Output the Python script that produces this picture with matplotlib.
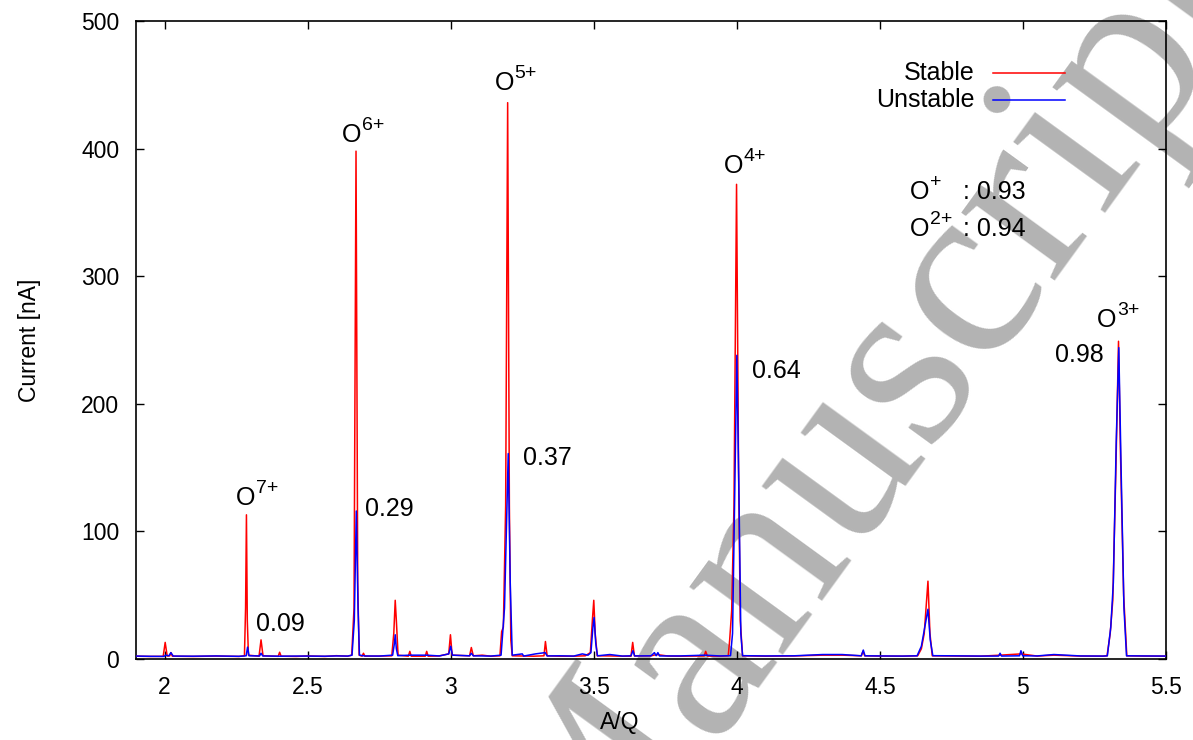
import matplotlib
matplotlib.use("Agg")
import matplotlib.pyplot as plt

# ---------------- data ----------------
stable_x = [1.90, 1.95, 1.995, 2.002, 2.009, 2.018, 2.022, 2.027, 2.10, 2.18, 2.26,
            2.279, 2.283, 2.286, 2.289, 2.293, 2.33, 2.337, 2.344, 2.397, 2.402, 2.407,
            2.46, 2.50, 2.56, 2.60, 2.64, 2.654, 2.662, 2.669, 2.675, 2.680, 2.690, 2.695,
            2.700, 2.75, 2.794, 2.801, 2.806, 2.810, 2.816, 2.852, 2.857, 2.862, 2.911,
            2.916, 2.921, 2.96, 2.993, 2.999, 3.005, 3.066, 3.072, 3.079, 3.11, 3.14,
            3.172, 3.178, 3.184, 3.192, 3.199, 3.205, 3.210, 3.215, 3.25, 3.29, 3.326,
            3.331, 3.337, 3.38, 3.43, 3.47, 3.488, 3.495, 3.500, 3.505, 3.512, 3.56, 3.60,
            3.630, 3.636, 3.642, 3.70, 3.72, 3.76, 3.80, 3.886, 3.891, 3.897, 3.94, 3.970,
            3.975, 3.982, 3.990, 3.999, 4.006, 4.012, 4.020, 4.10, 4.20, 4.30, 4.37, 4.435,
            4.441, 4.447, 4.50, 4.58, 4.632, 4.645, 4.655, 4.668, 4.675, 4.683, 4.75, 4.85,
            4.92, 4.993, 5.05, 5.108, 5.20, 5.28, 5.294, 5.305, 5.314, 5.325, 5.334, 5.341,
            5.352, 5.363, 5.42, 5.50]
stable_y = [2.2, 2.0, 2.1, 13, 2.3, 2.5, 5, 2.2, 2.0, 2.3, 2.0,
            2.5, 40, 113, 30, 3, 2.2, 15, 2.5, 2.1, 5.3, 2.2,
            2.0, 2.4, 2.0, 2.6, 2.2, 3, 40, 398, 60, 3, 2.2, 4.5,
            2.2, 2.3, 2.5, 20, 46, 30, 3, 2.2, 6, 2.2, 2.2,
            6, 2.2, 2.4, 4, 19, 3, 2.5, 9, 2.5, 3, 2.2,
            2.5, 21.5, 25, 120, 436, 120, 15, 2.5, 2.4, 2.2, 2.5,
            13.7, 2.5, 2.2, 2.2, 2.5, 5, 30, 46, 20, 2.5, 2.4, 2.2,
            2.2, 13, 2.4, 2.5, 3.5, 2.3, 2.2, 2.4, 6, 2.3, 2.2, 2.5,
            15, 38, 120, 372, 150, 30, 2.5, 2.2, 2.4, 3, 3, 2.5,
            6, 2.5, 2.3, 2.2, 2.5, 8, 20, 61, 20, 2.5, 2.4, 2.2,
            3, 4, 2.3, 3, 2.3, 2.2, 2.5, 20, 46, 150, 249, 160,
            50, 2.5, 2.3, 2.2]

unstable_x = [1.90, 1.95, 1.998, 2.003, 2.015, 2.022, 2.03, 2.10, 2.18, 2.26, 2.285,
              2.290, 2.295, 2.332, 2.337, 2.343, 2.40, 2.46, 2.50, 2.56, 2.60, 2.64,
              2.655, 2.663, 2.670, 2.676, 2.681, 2.70, 2.75, 2.797, 2.803, 2.806, 2.810,
              2.815, 2.857, 2.916, 2.96, 2.993, 3.000, 3.006, 3.066, 3.072, 3.079, 3.14,
              3.176, 3.188, 3.201, 3.208, 3.215, 3.25, 3.255, 3.296, 3.33, 3.337, 3.38,
              3.43, 3.46, 3.48, 3.490, 3.497, 3.501, 3.507, 3.513, 3.556, 3.60, 3.63,
              3.637, 3.643, 3.70, 3.712, 3.718, 3.724, 3.73, 3.80, 3.89, 3.94, 3.978,
              3.985, 3.992, 4.000, 4.008, 4.014, 4.020, 4.10, 4.20, 4.30, 4.368, 4.435,
              4.442, 4.448, 4.50, 4.58, 4.630, 4.645, 4.657, 4.668, 4.676, 4.685, 4.75,
              4.85, 4.915, 4.920, 4.925, 4.988, 4.993, 4.999, 5.05, 5.108, 5.20, 5.28,
              5.295, 5.307, 5.316, 5.326, 5.335, 5.343, 5.353, 5.362, 5.42, 5.50]
unstable_y = [2.3, 2.1, 2.0, 3, 2.5, 5, 2.3, 2.2, 2.4, 2.1, 2.5,
              9.3, 2.5, 2.4, 4.5, 2.4, 2.2, 2.3, 2.3, 2.2, 2.4, 2.3,
              3, 30, 116, 40, 3, 2.4, 2.3, 3, 12, 19, 8,
              2.6, 3, 3, 2.4, 4, 10, 3, 2.5, 4.5, 2.5, 2.3,
              3, 40, 161, 60, 3, 4, 2.3, 4, 5, 2.4, 2.5,
              2.3, 4, 3, 5, 25, 32.5, 12, 2.5, 3.5, 2.3, 2.5,
              6.5, 2.4, 2.5, 5, 2.6, 5, 2.4, 2.4, 3, 2.4, 2.6,
              20, 120, 238, 120, 20, 2.6, 2.4, 2.5, 3.5, 3.5, 2.5,
              7, 2.5, 2.4, 2.3, 2.5, 10, 25, 39, 15, 2.6, 2.5,
              2.3, 2.3, 4.5, 2.3, 2.5, 6.5, 2.5, 2.4, 3.5, 2.4, 2.3,
              2.5, 25, 60, 170, 244, 150, 40, 2.5, 2.4, 2.3]

series_labels = ["Stable", "Unstable"]
series_colors = ["#ff0000", "#0000ff"]

x_ticks = [2, 2.5, 3, 3.5, 4, 4.5, 5, 5.5]
x_tick_labels = ["2", "2.5", "3", "3.5", "4", "4.5", "5", "5.5"]
y_ticks = [0, 100, 200, 300, 400, 500]
y_tick_labels = ["0", "100", "200", "300", "400", "500"]

# ion labels
ion_charges = ["7+", "6+", "5+", "4+", "3+"]
ion_x = [2.249, 2.620, 3.153, 3.955, 5.259]
ion_y = [120.3, 405.0, 445.6, 380.5, 259.8]
ratio_text = ["0.09", "0.29", "0.37", "0.64", "0.98"]
ratio_x = [2.319, 2.701, 3.251, 4.053, 5.111]
ratio_y = [22.3, 111.7, 152.4, 220.6, 232.4]
extra_charges = ["+", "2+"]
extra_ratios = [": 0.93", ": 0.94"]

# ---------------- figure ----------------
W, H = 1193, 740
plt.rcParams['font.family'] = ['Liberation Sans', 'DejaVu Sans']

fig = plt.figure(figsize=(W / 100, H / 100), dpi=100)

def fx(px):
    return px / W

def fy(py):
    return 1 - py / H

FS = 18
SUP = 14

# watermark (behind the axes)
fig.text(fx(580), fy(925), "Manuscript", family="Liberation Serif", fontsize=182,
         color="#b3b3b3", rotation=54, rotation_mode="anchor", ha="left",
         va="baseline", zorder=-5)

ax = fig.add_axes([fx(136), fy(659), fx(1166) - fx(136), fy(21) - fy(659)])
ax.patch.set_alpha(0)

ax.plot(stable_x, stable_y, color=series_colors[0], lw=1.1, zorder=3)
ax.plot(unstable_x, unstable_y, color=series_colors[1], lw=1.1, zorder=4)

ax.set_xlim(1.9, 5.5)
ax.set_ylim(0, 500)
ax.set_xticks(x_ticks)
ax.set_xticklabels(x_tick_labels)
ax.set_yticks(y_ticks)
ax.set_yticklabels(y_tick_labels)
ax.tick_params(direction="in", length=6, width=1.0, top=True, right=True,
               labelsize=16.5, color="black")
ax.tick_params(axis="x", pad=12)
ax.tick_params(axis="y", pad=12)
for s in ax.spines.values():
    s.set_linewidth(1.2)

fig.text(fx(30), fy(340), "Current [nA]", rotation=90, ha="center", va="center",
         fontsize=16.5)
fig.text(fx(620), fy(722), "A/Q", ha="center", va="center", fontsize=16.5)

for ch, x, y in zip(ion_charges, ion_x, ion_y):
    t = ax.text(x, y, "O", fontsize=FS, ha="left", va="baseline", zorder=6)
    ax.annotate(ch, xy=(1.0, 1.0), xycoords=t, xytext=(0.3, 4.5),
                textcoords="offset points", fontsize=SUP, ha="left", va="top",
                annotation_clip=False, zorder=6)
for txt, x, y in zip(ratio_text, ratio_x, ratio_y):
    ax.text(x, y, txt, fontsize=FS, ha="left", va="baseline", zorder=6)

# O+ / O2+ ratio block
for i, (ch, ratio) in enumerate(zip(extra_charges, extra_ratios)):
    base = 199 + i * 37.5
    t = fig.text(fx(910), fy(base), "O", fontsize=FS, ha="left", va="baseline")
    ax.annotate(ch, xy=(1.0, 1.0), xycoords=t, xytext=(0.3, 4.5),
                textcoords="offset points", fontsize=SUP, ha="left", va="top",
                annotation_clip=False)
    fig.text(fx(963), fy(base), ratio, fontsize=FS, ha="left", va="baseline")

# legend (text right-aligned, sample line on the right)
for i, (lab, col) in enumerate(zip(series_labels, series_colors)):
    yc = 73 + i * 27
    fig.text(fx(975), fy(yc), lab, fontsize=FS, ha="right", va="center")
    fig.add_artist(plt.Line2D([fx(993), fx(1065)], [fy(yc), fy(yc)], color=col,
                              lw=1.1, transform=fig.transFigure))

fig.savefig("out.png", dpi=100)
